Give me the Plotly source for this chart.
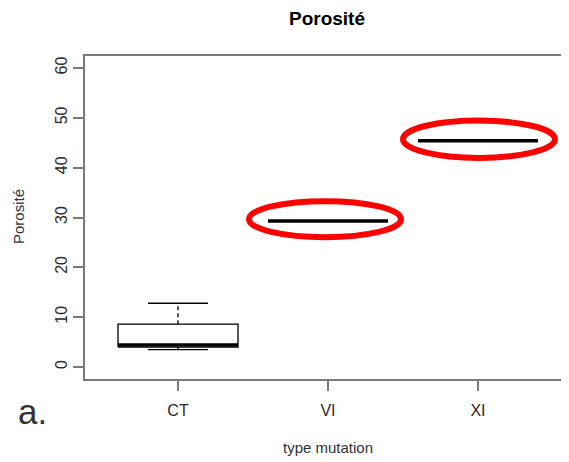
import plotly.graph_objects as go

# ---- data ----
categories = ["CT", "VI", "XI"]
positions = [1, 2, 3]
lower_whisker = [3.5, 29.3, 45.4]
q1 = [4.0, 29.3, 45.4]
median = [4.4, 29.3, 45.4]
q3 = [8.6, 29.3, 45.4]
upper_whisker = [12.8, 29.3, 45.4]
y_ticks = [0, 10, 20, 30, 40, 50, 60]

# highlight ellipses (data coordinates): x0, x1, y0, y1
ellipse_x0 = [1.473, 2.50]
ellipse_x1 = [2.487, 3.513]
ellipse_y0 = [26.06, 41.96]
ellipse_y1 = [33.28, 49.45]

FONT = "Liberation Sans, Arial, sans-serif"
half = 0.4   # box half width
cap = 0.2    # staple half width

fig = go.Figure()

for p, lo, a, m, b, hi in zip(positions, lower_whisker, q1, median, q3, upper_whisker):
    fig.add_trace(go.Scatter(
        x=[p, p, None, p, p], y=[b, hi, None, a, lo], mode="lines",
        line=dict(color="black", width=1.3, dash="4px,3px"),
        hoverinfo="skip", showlegend=False))
    fig.add_trace(go.Scatter(
        x=[p - half, p + half, p + half, p - half, p - half],
        y=[a, a, b, b, a], mode="lines", fill="toself", fillcolor="white",
        line=dict(color="black", width=1.3), hoverinfo="skip", showlegend=False))
    fig.add_trace(go.Scatter(
        x=[p - cap, p + cap, None, p - cap, p + cap], y=[hi, hi, None, lo, lo],
        mode="lines", line=dict(color="black", width=1.3),
        hoverinfo="skip", showlegend=False))
    fig.add_trace(go.Scatter(
        x=[p - half, p + half], y=[m, m], mode="lines",
        line=dict(color="black", width=3.5), hoverinfo="skip", showlegend=False))

for x0, x1, y0, y1 in zip(ellipse_x0, ellipse_x1, ellipse_y0, ellipse_y1):
    fig.add_shape(type="circle", xref="x", yref="y", x0=x0, x1=x1, y0=y0, y1=y1,
                  line=dict(color="#ff0000", width=6), layer="above")

OFF = 8  # page body margin of the browser
W, H = 569 - OFF, 462 - OFF
ml, mr, mt, mb = 85 - OFF, 0, 56 - OFF, 462 - 379
pw = W - ml - mr
ph = H - mt - mb

def px_x(px):
    return (px - OFF - ml) / pw

def px_y(py):
    return (H - mb - (py - OFF)) / ph

fig.update_layout(
    width=W, height=H,
    margin=dict(l=ml, r=mr, t=mt, b=mb, pad=0),
    paper_bgcolor="white", plot_bgcolor="white",
    font=dict(family=FONT, color="#333333", size=15),
    title=dict(text="<b>Porosité</b>", x=0.5, xref="paper", xanchor="center",
               y=1 - (18 - OFF) / H, yref="container", yanchor="middle",
               font=dict(family=FONT, size=19, color="black")),
    xaxis=dict(range=[0.38, 0.38 + pw / 150.0], tickmode="array",
               tickvals=positions, ticktext=categories,
               showgrid=False, zeroline=False,
               showline=True, mirror=True, linecolor="#7a7a7a", linewidth=2,
               ticks="outside", ticklen=10, tickcolor="#7a7a7a", tickwidth=1.5,
               ticklabelstandoff=6,
               tickfont=dict(size=16, color="#2a2a2a")),
    yaxis=dict(range=[-2.4, 62.4], tickmode="array", tickvals=y_ticks,
               ticktext=[str(v) for v in y_ticks], tickangle=-90,
               showgrid=False, zeroline=False,
               showline=True, mirror=False, linecolor="#7a7a7a", linewidth=2,
               ticks="outside", ticklen=10, tickcolor="#7a7a7a", tickwidth=1.5,
               tickfont=dict(size=16, color="#2a2a2a")),
    annotations=[
        dict(text="Porosité", xref="paper", yref="paper",
             x=px_x(18), y=px_y(217), textangle=-90,
             showarrow=False, xanchor="center", yanchor="middle",
             font=dict(family=FONT, size=15, color="#333333")),
        dict(text="type mutation", xref="paper", yref="paper",
             x=px_x(328), y=px_y(447),
             showarrow=False, xanchor="center", yanchor="middle",
             font=dict(family=FONT, size=15, color="#333333")),
        dict(text="a.", xref="paper", yref="paper",
             x=px_x(32), y=px_y(411),
             showarrow=False, xanchor="center", yanchor="middle",
             font=dict(family=FONT, size=35, color="#333333")),
    ],
)

fig.write_html("out.html")
